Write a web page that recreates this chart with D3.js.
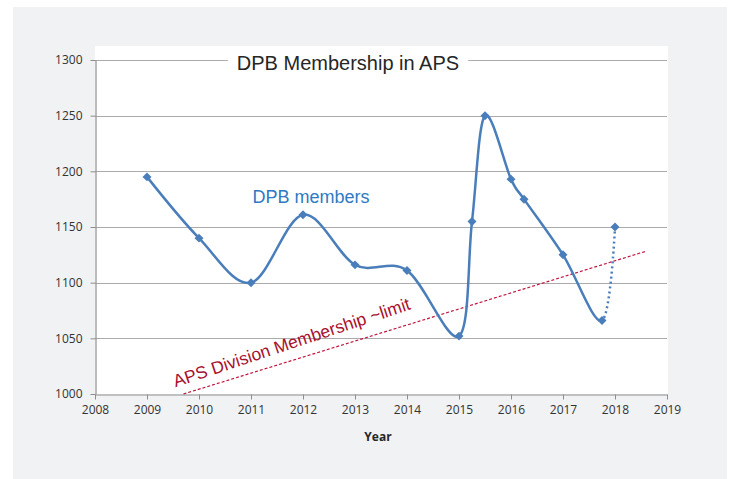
<!DOCTYPE html>
<html>
<head>
<meta charset="utf-8">
<script src="https://cdn.jsdelivr.net/npm/d3@7"></script>
<style>
	body { margin: 0; background: #fff; }
	svg { display: block; }
</style>
</head>
<body>
<div id="chart"></div>
<script>
// DPB membership
const years = [2009, 2010, 2011, 2012, 2013, 2014, 2015, 2015.25, 2015.5, 2016, 2016.25, 2017, 2017.75, 2018];
const members = [1195, 1140, 1100, 1161, 1116, 1111, 1052, 1155, 1250, 1193, 1175, 1125, 1066, 1150];
const solidUpTo = 2017.75; // last segment is dotted

// APS division membership ~limit (straight dashed line)
const limitYears = [2009.7, 2018.58];
const limitValues = [1000, 1128];

const xTicks = d3.range(2008, 2020);
const yTicks = [1000, 1050, 1100, 1150, 1200, 1250, 1300];

const W = 732, H = 479;
const margin = { top: 60, right: 65, bottom: 85, left: 95 };

const svg = d3.select("#chart")
	.append("svg")
	.attr("width", W)
	.attr("height", H);

// grey panel
svg.append("rect")
	.attr("x", 13).attr("y", 7)
	.attr("width", 714).attr("height", H - 7)
	.attr("fill", "#f1f2f4");

const x = d3.scaleLinear()
	.domain([2008, 2019])
	.range([margin.left, W - margin.right]);

const y = d3.scaleLinear()
	.domain([1000, 1300])
	.range([H - margin.bottom, margin.top]);

// white plot area
svg.append("rect")
	.attr("x", x(2008))
	.attr("y", y(1300) - 14)
	.attr("width", x(2019) - x(2008) + 1)
	.attr("height", y(1000) - y(1300) + 14)
	.attr("fill", "#fff");

// gridlines
svg.append("g")
	.selectAll("line")
	.data(yTicks.slice(1))
	.join("line")
	.attr("x1", x(2008))
	.attr("x2", x(2019))
	.attr("y1", d => Math.round(y(d)) + 0.5)
	.attr("y2", d => Math.round(y(d)) + 0.5)
	.attr("stroke", "#ababab")
	.attr("stroke-width", 1.2);

// Y axis
const yAxis = svg.append("g")
	.attr("transform", `translate(${Math.round(x(2008)) + 0.5},0)`)
	.call(d3.axisLeft(y).tickValues(yTicks).tickFormat(d3.format("d")).tickSize(5).tickSizeOuter(0).tickPadding(8));

// X axis
const xAxis = svg.append("g")
	.attr("transform", `translate(0,${Math.round(y(1000)) + 0.5})`)
	.call(d3.axisBottom(x).tickValues(xTicks).tickFormat(d3.format("d")).tickSize(5).tickSizeOuter(0).tickPadding(6));

[yAxis, xAxis].forEach(a => {
	a.select(".domain").attr("stroke", "#8e8e8e").attr("stroke-width", 1.2);
	a.selectAll(".tick line").attr("stroke", "#8e8e8e");
	a.selectAll("text")
		.attr("fill", "#333")
		.style("font-family", "'Open Sans', sans-serif")
		.style("font-size", "12px");
});

// X axis title
svg.append("text")
	.attr("x", (x(2008) + x(2019)) / 2 - 3)
	.attr("y", 441)
	.attr("text-anchor", "middle")
	.attr("fill", "#262626")
	.style("font-family", "'Open Sans', sans-serif")
	.style("font-size", "12px")
	.style("font-weight", "bold")
	.text("Year");

// Chart title with white box over top gridline
const titleBox = svg.append("rect").attr("fill", "#fff");
const title = svg.append("text")
	.attr("x", 348)
	.attr("y", 70)
	.attr("text-anchor", "middle")
	.attr("fill", "#262626")
	.style("font-family", "'Liberation Sans', Arial, sans-serif")
	.style("font-size", "20px")
	.text("DPB Membership in APS");

const tb = title.node().getBBox();
titleBox
	.attr("x", tb.x - 9)
	.attr("y", tb.y)
	.attr("width", tb.width + 18)
	.attr("height", tb.height);

// dashed limit line
svg.append("line")
	.attr("x1", x(limitYears[0]))
	.attr("y1", y(limitValues[0]))
	.attr("x2", x(limitYears[1]))
	.attr("y2", y(limitValues[1]))
	.attr("stroke", "#c0163f")
	.attr("stroke-width", 1.2)
	.attr("stroke-dasharray", "3,2");

const angle = Math.atan2(y(limitValues[1]) - y(limitValues[0]), x(limitYears[1]) - x(limitYears[0])) * 180 / Math.PI;

svg.append("text")
	.attr("transform", `translate(${x(2009.55)},${y(1006)}) rotate(${angle - 1.2})`)
	.attr("fill", "#a8102e")
	.style("font-family", "'Liberation Sans', Arial, sans-serif")
	.style("font-size", "17.5px")
	.text("APS Division Membership ~limit");

// members curve
const pts = years.map((d, i) => [x(d), y(members[i])]);
const line = d3.line().curve(d3.curveCardinal.tension(0));

svg.append("clipPath").attr("id", "solid-clip")
	.append("rect")
	.attr("x", 0).attr("y", 0)
	.attr("width", x(solidUpTo)).attr("height", H);

svg.append("clipPath").attr("id", "dot-clip")
	.append("rect")
	.attr("x", x(solidUpTo)).attr("y", 0)
	.attr("width", W).attr("height", H);

svg.append("path")
	.attr("d", line(pts))
	.attr("fill", "none")
	.attr("stroke", "#4a7ebb")
	.attr("stroke-width", 2.5)
	.attr("clip-path", "url(#solid-clip)");

svg.append("path")
	.attr("d", line(pts))
	.attr("fill", "none")
	.attr("stroke", "#4a7ebb")
	.attr("stroke-width", 2.5)
	.attr("stroke-dasharray", "2,3")
	.attr("clip-path", "url(#dot-clip)");

// markers
svg.append("g")
	.selectAll("path")
	.data(pts)
	.join("path")
	.attr("transform", d => `translate(${d[0]},${d[1]}) rotate(45)`)
	.attr("d", d3.symbol(d3.symbolSquare, 40))
	.attr("fill", "#4a7ebb");

// series label
svg.append("text")
	.attr("x", x(2011.03))
	.attr("y", y(1172))
	.attr("fill", "#2f7ac2")
	.style("font-family", "'Liberation Sans', Arial, sans-serif")
	.style("font-size", "18px")
	.text("DPB members");
</script>
</body>
</html>
